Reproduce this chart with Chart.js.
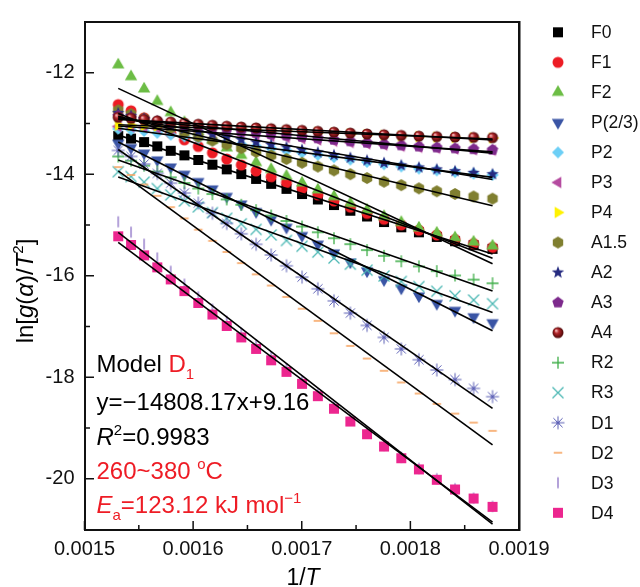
<!DOCTYPE html>
<html>
<head>
<meta charset="utf-8">
<title>Coats-Redfern plot</title>
<script src="https://cdn.jsdelivr.net/npm/chart.js@4.4.1/dist/chart.umd.min.js"></script>
<style>
  html, body { margin: 0; padding: 0; background: #fff; }
</style>
</head>
<body>
<canvas id="myChart" width="640" height="587"></canvas>
<script>
// 1/T (K^-1), 380 down to 260 °C in 5 °C steps
var invT = [0.00153104, 0.00154285, 0.00155485, 0.00156703, 0.00157940, 0.00159198, 0.00160475,
            0.00161773, 0.00163092, 0.00164433, 0.00165796, 0.00167182, 0.00168591, 0.00170025,
            0.00171483, 0.00172965, 0.00174474, 0.00176010, 0.00177573, 0.00179163, 0.00180783,
            0.00182432, 0.00184111, 0.00185822, 0.00187565];

var modelNames = ['F0', 'F1', 'F2', 'P(2/3)', 'P2', 'P3', 'P4', 'A1.5', 'A2', 'A3', 'A4',
                  'R2', 'R3', 'D1', 'D2', 'D3', 'D4'];

// ln[g(a)/T^2] for each model
var lnF0 = [-13.247, -13.298, -13.366, -13.450, -13.538, -13.628, -13.719, -13.811, -13.903, -13.997, -14.092, -14.189, -14.287, -14.390, -14.497, -14.607, -14.719, -14.832, -14.941, -15.045, -15.143, -15.235, -15.320, -15.398, -15.470];
var lnF1 = [-12.627, -12.750, -12.888, -13.040, -13.186, -13.322, -13.453, -13.578, -13.700, -13.818, -13.935, -14.050, -14.165, -14.283, -14.404, -14.526, -14.649, -14.771, -14.887, -14.998, -15.101, -15.197, -15.285, -15.368, -15.442];
var lnF2 = [-11.846, -12.078, -12.320, -12.566, -12.786, -12.981, -13.160, -13.326, -13.481, -13.628, -13.770, -13.906, -14.039, -14.173, -14.308, -14.442, -14.577, -14.708, -14.833, -14.950, -15.059, -15.160, -15.252, -15.337, -15.414];
var lnP23 = [-13.388, -13.473, -13.582, -13.717, -13.857, -13.999, -14.143, -14.289, -14.436, -14.585, -14.736, -14.889, -15.045, -15.208, -15.377, -15.550, -15.728, -15.905, -16.078, -16.243, -16.399, -16.546, -16.682, -16.809, -16.926];
var lnP2 = [-13.105, -13.123, -13.149, -13.184, -13.220, -13.257, -13.294, -13.332, -13.370, -13.409, -13.448, -13.488, -13.529, -13.572, -13.617, -13.663, -13.711, -13.758, -13.804, -13.847, -13.887, -13.924, -13.957, -13.987, -14.014];
var lnP3 = [-13.058, -13.065, -13.077, -13.095, -13.114, -13.133, -13.153, -13.173, -13.193, -13.213, -13.234, -13.255, -13.276, -13.299, -13.324, -13.349, -13.375, -13.401, -13.425, -13.448, -13.469, -13.487, -13.503, -13.517, -13.528];
var lnP4 = [-13.034, -13.036, -13.041, -13.050, -13.061, -13.071, -13.082, -13.093, -13.104, -13.115, -13.126, -13.138, -13.150, -13.163, -13.177, -13.192, -13.207, -13.222, -13.236, -13.248, -13.259, -13.269, -13.276, -13.282, -13.286];
var lnA15 = [-12.739, -12.816, -12.903, -12.999, -13.091, -13.176, -13.258, -13.337, -13.412, -13.486, -13.558, -13.630, -13.700, -13.774, -13.849, -13.924, -14.000, -14.075, -14.147, -14.215, -14.278, -14.336, -14.388, -14.438, -14.481];
var lnA2 = [-12.795, -12.849, -12.910, -12.979, -13.044, -13.104, -13.161, -13.216, -13.268, -13.319, -13.370, -13.419, -13.468, -13.519, -13.571, -13.623, -13.676, -13.728, -13.777, -13.824, -13.866, -13.905, -13.940, -13.972, -14.000];
var lnA3 = [-12.851, -12.882, -12.918, -12.958, -12.996, -13.031, -13.064, -13.095, -13.125, -13.153, -13.181, -13.209, -13.236, -13.264, -13.293, -13.322, -13.351, -13.380, -13.407, -13.432, -13.455, -13.474, -13.491, -13.507, -13.519];
var lnA4 = [-12.879, -12.899, -12.922, -12.948, -12.972, -12.995, -13.015, -13.035, -13.053, -13.070, -13.087, -13.103, -13.120, -13.136, -13.154, -13.171, -13.189, -13.206, -13.222, -13.236, -13.249, -13.259, -13.267, -13.274, -13.279];
var lnR2 = [-13.650, -13.732, -13.831, -13.946, -14.061, -14.172, -14.282, -14.390, -14.496, -14.602, -14.708, -14.813, -14.920, -15.030, -15.144, -15.260, -15.378, -15.495, -15.608, -15.715, -15.816, -15.909, -15.995, -16.076, -16.148];
var lnR3 = [-13.950, -14.045, -14.156, -14.283, -14.407, -14.526, -14.643, -14.756, -14.868, -14.977, -15.087, -15.196, -15.305, -15.418, -15.534, -15.651, -15.771, -15.890, -16.004, -16.113, -16.214, -16.306, -16.396, -16.479, -16.551];
var lnD1 = [-13.530, -13.648, -13.799, -13.983, -14.175, -14.370, -14.568, -14.768, -14.969, -15.173, -15.380, -15.590, -15.803, -16.026, -16.257, -16.494, -16.736, -16.979, -17.215, -17.441, -17.655, -17.857, -18.045, -18.220, -18.382];
var lnD2 = [-13.859, -14.014, -14.202, -14.424, -14.648, -14.870, -15.092, -15.312, -15.532, -15.751, -15.972, -16.193, -16.417, -16.650, -16.889, -17.134, -17.383, -17.631, -17.873, -18.103, -18.321, -18.525, -18.716, -18.893, -19.056];
var lnD3 = [-14.936, -15.141, -15.379, -15.648, -15.912, -16.166, -16.416, -16.659, -16.899, -17.134, -17.370, -17.604, -17.838, -18.082, -18.332, -18.582, -18.839, -19.095, -19.341, -19.577, -19.796, -20.000, -20.197, -20.382, -20.545];
var lnD4 = [-15.222, -15.393, -15.598, -15.834, -16.072, -16.302, -16.536, -16.764, -16.990, -17.215, -17.441, -17.666, -17.894, -18.130, -18.373, -18.620, -18.872, -19.122, -19.365, -19.596, -19.816, -20.020, -20.211, -20.390, -20.554];

// D1 fit as reported
var d1Slope = -14808.17;
var d1Intercept = 9.16;
var d1R2 = 0.9983;
var d1Ea = 123.12;

// axis ticks
var xTicks = [0.0015, 0.0016, 0.0017, 0.0018, 0.0019];
var xTickLabels = ['0.0015', '0.0016', '0.0017', '0.0018', '0.0019'];
var xMinorTicks = [0.00155, 0.00165, 0.00175, 0.00185];
var yTicks = [-20, -18, -16, -14, -12];
var yTickLabels = ['-20', '-18', '-16', '-14', '-12'];
var yMinorTicks = [-19, -17, -15, -13];

var allSeries = [lnF0, lnF1, lnF2, lnP23, lnP2, lnP3, lnP4, lnA15, lnA2, lnA3, lnA4,
                 lnR2, lnR3, lnD1, lnD2, lnD3, lnD4];

var RED = '#ee1c25';
var FONT = '"Liberation Sans", Arial, Helvetica, sans-serif';

// marker shape, colour, size
var markerSpecs = [
    ['square', '#000000', 10],
    ['circle', '#ed1c24', 11],
    ['triUp', '#6cbd45', 13],
    ['triDown', '#3a55a5', 13],
    ['diamond', '#6dcff6', 12],
    ['triLeft', '#b54ba0', 12],
    ['triRight', '#fff200', 12],
    ['hexagon', '#807f30', 12],
    ['star', '#262b80', 13],
    ['pentagon', '#7d2a8c', 12],
    ['sphere', '#8b1214', 11],
    ['plus', '#3fae49', 12],
    ['cross', '#4cb8b4', 11],
    ['asterisk', '#5b5fb5', 13],
    ['hline', '#f7a663', 10],
    ['vline', '#8b70c5', 11],
    ['square', '#ec268f', 10]
];

function polygon(g, n, R, start) {
    g.beginPath();
    for (var k = 0; k < n; k++) {
        var t = start + k * 2 * Math.PI / n;
        g.lineTo(R * Math.cos(t), R * Math.sin(t));
    }
    g.closePath();
    g.fill();
}

function makeMarker(shape, color, size) {
    var c = document.createElement('canvas');
    var w = size + 4;
    if (w % 2) w++;
    c.width = c.height = w;
    var g = c.getContext('2d');
    var r = size / 2;
    g.translate(w / 2, w / 2);
    g.fillStyle = color;
    g.strokeStyle = color;
    g.lineWidth = 1.3;
    switch (shape) {
        case 'square':
            g.fillRect(-r, -r, size, size);
            break;
        case 'circle':
            g.beginPath(); g.arc(0, 0, r, 0, 2 * Math.PI); g.fill();
            break;
        case 'triUp': polygon(g, 3, r * 1.1, -Math.PI / 2); break;
        case 'triDown': polygon(g, 3, r * 1.1, Math.PI / 2); break;
        case 'triLeft': polygon(g, 3, r * 1.1, Math.PI); break;
        case 'triRight': polygon(g, 3, r * 1.1, 0); break;
        case 'diamond': polygon(g, 4, r, -Math.PI / 2); break;
        case 'hexagon': polygon(g, 6, r, -Math.PI / 2); break;
        case 'pentagon': polygon(g, 5, r, -Math.PI / 2); break;
        case 'star':
            g.beginPath();
            for (var k = 0; k < 10; k++) {
                var t = -Math.PI / 2 + k * Math.PI / 5;
                var rr = k % 2 ? r * 0.42 : r;
                g.lineTo(rr * Math.cos(t), rr * Math.sin(t));
            }
            g.closePath(); g.fill();
            break;
        case 'sphere':
            var grad = g.createRadialGradient(-r * 0.35, -r * 0.4, r * 0.1, 0, 0, r);
            grad.addColorStop(0, '#f0b0b0');
            grad.addColorStop(0.35, '#b3262a');
            grad.addColorStop(1, '#4a0606');
            g.fillStyle = grad;
            g.beginPath(); g.arc(0, 0, r, 0, 2 * Math.PI); g.fill();
            break;
        case 'plus':
            g.beginPath(); g.moveTo(-r, 0); g.lineTo(r, 0); g.moveTo(0, -r); g.lineTo(0, r); g.stroke();
            break;
        case 'cross':
            g.beginPath(); g.moveTo(-r, -r); g.lineTo(r, r); g.moveTo(-r, r); g.lineTo(r, -r); g.stroke();
            break;
        case 'asterisk':
            g.lineWidth = 1;
            g.beginPath();
            for (var j = 0; j < 4; j++) {
                var a = j * Math.PI / 4;
                g.moveTo(-r * Math.cos(a), -r * Math.sin(a));
                g.lineTo(r * Math.cos(a), r * Math.sin(a));
            }
            g.stroke();
            g.beginPath(); g.arc(0, 0, 1.6, 0, 2 * Math.PI); g.fill();
            break;
        case 'hline':
            g.lineWidth = 1.6;
            g.beginPath(); g.moveTo(-r * 0.85, 0); g.lineTo(r * 0.85, 0); g.stroke();
            break;
        case 'vline':
            g.beginPath(); g.moveTo(0, -r); g.lineTo(0, r); g.stroke();
            break;
    }
    return c;
}

var markers = markerSpecs.map(function (s) { return makeMarker(s[0], s[1], s[2]); });

// least squares line through one series
function fitLine(xs, ys) {
    var n = xs.length, mx = 0, my = 0, sxx = 0, sxy = 0;
    for (var i = 0; i < n; i++) { mx += xs[i]; my += ys[i]; }
    mx /= n; my /= n;
    for (var i = 0; i < n; i++) {
        sxx += (xs[i] - mx) * (xs[i] - mx);
        sxy += (xs[i] - mx) * (ys[i] - my);
    }
    var slope = sxy / sxx;
    return { slope: slope, intercept: my - slope * mx };
}

var datasets = [];
var x0 = invT[0], x1 = invT[invT.length - 1];

// fit lines first so they sit on top of the markers
allSeries.forEach(function (ys, i) {
    var fit = modelNames[i] === 'D1' ? { slope: d1Slope, intercept: d1Intercept } : fitLine(invT, ys);
    datasets.push({
        label: modelNames[i] + ' fit',
        data: [{ x: x0, y: fit.intercept + fit.slope * x0 }, { x: x1, y: fit.intercept + fit.slope * x1 }],
        showLine: true,
        borderColor: '#000',
        borderWidth: 1.6,
        pointRadius: 0,
        order: 0
    });
});

allSeries.forEach(function (ys, i) {
    datasets.push({
        label: modelNames[i],
        data: invT.map(function (x, k) { return { x: x, y: ys[k] }; }),
        pointStyle: markers[i],
        pointRadius: 5,
        pointHoverRadius: 5,
        showLine: false,
        order: 100 - i
    });
});

function runFont(r, size) {
    var s = (r.sub || r.sup) ? Math.round(size * 0.62) : size;
    return (r.i ? 'italic ' : '') + s + 'px ' + FONT;
}

// text made of runs with italics, sub- and superscripts
function drawRich(ctx, runs, x, y, size, align) {
    var widths = runs.map(function (r) { ctx.font = runFont(r, size); return ctx.measureText(r.t).width; });
    var total = widths.reduce(function (s, w) { return s + w; }, 0);
    var cx = align === 'center' ? x - total / 2 : x;
    runs.forEach(function (r, i) {
        ctx.font = runFont(r, size);
        ctx.fillStyle = r.c || '#000';
        var dy = r.sub ? size * 0.28 : (r.sup ? -size * 0.4 : 0);
        ctx.fillText(r.t, cx, y + dy);
        cx += widths[i];
    });
}

var decor = {
    id: 'decor',
    afterDraw: function (chart) {
        var ctx = chart.ctx, a = chart.chartArea;
        var xs = chart.scales.x, ys = chart.scales.y;
        ctx.save();
        ctx.globalAlpha = 1;
        ctx.globalCompositeOperation = 'source-over';
        ctx.fillStyle = '#111';

        // frame, right side a little heavier
        var L = Math.round(a.left), R = Math.round(a.right), T = Math.round(a.top), B = Math.round(a.bottom);
        ctx.fillRect(L - 1, T - 1, R - L + 2, 2);
        ctx.fillRect(L - 1, B - 1, R - L + 2, 2);
        ctx.fillRect(L - 1, T - 1, 2, B - T + 2);
        ctx.fillRect(R - 1, T - 1, 2.5, B - T + 2);

        // inward tick marks
        xTicks.forEach(function (v) { var px = xs.getPixelForValue(v); ctx.fillRect(px - 0.75, B - 9, 1.5, 9); });
        xMinorTicks.forEach(function (v) { var px = xs.getPixelForValue(v); ctx.fillRect(px - 0.75, B - 5, 1.5, 5); });
        yTicks.forEach(function (v) { var py = ys.getPixelForValue(v); ctx.fillRect(L, py - 0.75, 9, 1.5); });
        yMinorTicks.forEach(function (v) { var py = ys.getPixelForValue(v); ctx.fillRect(L, py - 0.75, 5, 1.5); });

        ctx.textBaseline = 'alphabetic';

        // axis titles
        drawRich(ctx, [{ t: '1/' }, { t: 'T', i: true }], 303, 585, 23, 'center');
        ctx.save();
        ctx.translate(33, 291);
        ctx.rotate(-Math.PI / 2);
        drawRich(ctx, [{ t: 'ln[' }, { t: 'g', i: true }, { t: '(' }, { t: '\u03b1', i: true }, { t: ')/' },
                       { t: 'T', i: true }, { t: '2', sup: true }, { t: ']' }], 0, 0, 24, 'center');
        ctx.restore();

        // fit summary for D1
        var tx = 96.5, fs = 24;
        drawRich(ctx, [{ t: 'Model ' }, { t: 'D', c: RED }, { t: '1', c: RED, sub: true }], tx, 372, fs);
        drawRich(ctx, [{ t: 'y=\u2212' + Math.abs(d1Slope).toFixed(2) + 'x+' + d1Intercept.toFixed(2) }], tx, 410, fs);
        drawRich(ctx, [{ t: 'R', i: true }, { t: '2', sup: true }, { t: '=' + d1R2.toFixed(4) }], tx, 445, fs);
        drawRich(ctx, [{ t: '260~380 ', c: RED }, { t: 'o', c: RED, sup: true }, { t: 'C', c: RED }], tx, 479, fs);
        drawRich(ctx, [{ t: 'E', i: true, c: RED }, { t: 'a', sub: true, c: RED },
                       { t: '=' + d1Ea.toFixed(2) + ' kJ mol', c: RED }, { t: '\u22121', sup: true, c: RED }], tx, 513, fs);

        // legend
        ctx.font = '17.5px ' + FONT;
        ctx.fillStyle = '#111';
        ctx.textBaseline = 'middle';
        modelNames.forEach(function (name, i) {
            var cy = 32.3 + i * 30.03;
            var m = markers[i];
            ctx.drawImage(m, 558 - m.width / 2, cy - m.height / 2);
            ctx.fillText(name, 591, cy + 1);
        });

        ctx.restore();
    }
};

var ctx = document.getElementById('myChart').getContext('2d');
var myChart = new Chart(ctx, {
    type: 'scatter',
    data: { datasets: datasets },
    options: {
        responsive: false,
        animation: false,
        events: [],
        layout: { padding: { top: 14, right: 121, left: 0, bottom: 0 } },
        plugins: {
            legend: { display: false },
            tooltip: { enabled: false }
        },
        scales: {
            x: {
                type: 'linear',
                min: 0.0015,
                max: 0.0019,
                grid: { display: false, drawTicks: false },
                border: { display: false },
                afterBuildTicks: function (axis) { axis.ticks = xTicks.map(function (v) { return { value: v }; }); },
                afterFit: function (scale) { scale.height = 57.5; },
                ticks: {
                    autoSkip: false,
                    maxRotation: 0,
                    padding: 8,
                    color: '#111',
                    font: { family: FONT, size: 20 },
                    callback: function (value, index) { return xTickLabels[index]; }
                }
            },
            y: {
                type: 'linear',
                min: -21,
                max: -11,
                grid: { display: false, drawTicks: false },
                border: { display: false },
                afterBuildTicks: function (axis) { axis.ticks = yTicks.map(function (v) { return { value: v }; }); },
                afterFit: function (scale) { scale.width = 84.5; },
                ticks: {
                    autoSkip: false,
                    padding: 10,
                    color: '#111',
                    font: { family: FONT, size: 20 },
                    callback: function (value, index) { return yTickLabels[index]; }
                }
            }
        }
    },
    plugins: [decor]
});
</script>
</body>
</html>
